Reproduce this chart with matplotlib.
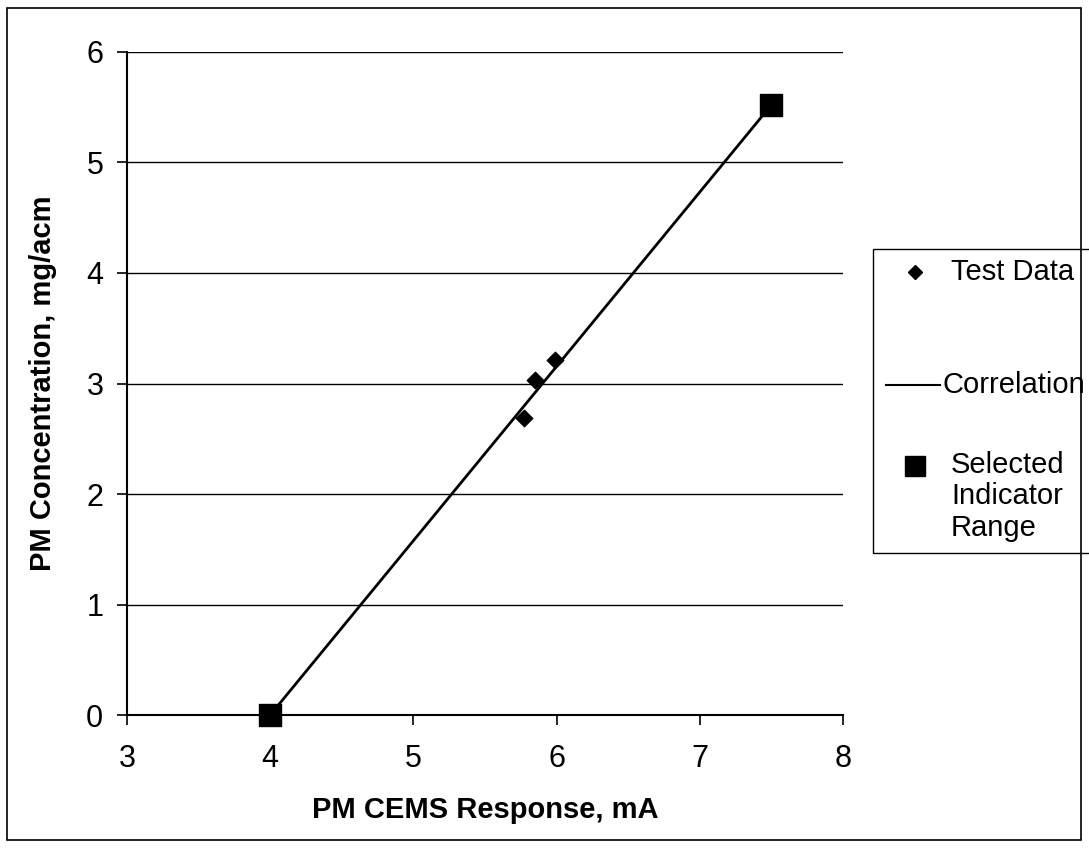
import matplotlib
matplotlib.use("Agg")
import matplotlib.pyplot as plt
from matplotlib.patches import Rectangle
from matplotlib.lines import Line2D

plt.rcParams['font.family'] = ['Liberation Sans', 'DejaVu Sans']

# test data (mA, mg/acm)
test_x = [5.77, 5.85, 5.99]
test_y = [2.69, 3.03, 3.21]

# correlation line end points / selected indicator range
range_x = [4.0, 7.5]
range_y = [0.0, 5.52]

xticks = [3, 4, 5, 6, 7, 8]
yticks = [0, 1, 2, 3, 4, 5, 6]

W, H = 1089, 848
fig = plt.figure(figsize=(W / 100, H / 100), dpi=100)
ax = fig.add_axes([0.1166, 0.1568, 0.6574, 0.7819])

ax.plot(range_x, range_y, color='black', lw=2, zorder=3)
ax.scatter(test_x, test_y, marker='D', s=70, color='black', zorder=4)
ax.scatter(range_x, range_y, marker='s', s=260, color='black', zorder=5, clip_on=False)

ax.set_xlim(3, 8)
ax.set_ylim(0, 6)
ax.set_xticks(xticks)
ax.set_yticks(yticks)
ax.yaxis.grid(True, color='black', lw=1)
ax.set_axisbelow(True)
for s in ['top', 'right']:
    ax.spines[s].set_visible(False)
ax.spines['left'].set_linewidth(1.5)
ax.spines['bottom'].set_linewidth(1.5)
ax.tick_params(direction='out', length=7, width=1.2, labelsize=22)
ax.tick_params(axis='x', pad=14)
ax.tick_params(axis='y', pad=10)

ax.set_xlabel('PM CEMS Response, mA', fontsize=21, fontweight='bold', labelpad=16)
ax.set_ylabel('PM Concentration, mg/acm', fontsize=21, fontweight='bold', labelpad=21)

# legend, drawn by hand (pixel positions -> figure fraction)
def fx(px):
    return px / W

def fy(py):
    return 1 - py / H

fig.patches.append(Rectangle((fx(873), fy(553)), fx(1095) - fx(873), fy(249) - fy(553),
                             transform=fig.transFigure, fill=False, edgecolor='black', lw=1))
fig.add_artist(Line2D([fx(915)], [fy(272)], marker='D', ms=7, color='black', ls='none'))
fig.text(fx(951), fy(272), 'Test Data', fontsize=21, va='center')
fig.add_artist(Line2D([fx(886), fx(940)], [fy(385), fy(385)], color='black', lw=1.5))
fig.text(fx(943), fy(385), 'Correlation', fontsize=21, va='center')
fig.add_artist(Line2D([fx(915)], [fy(466)], marker='s', ms=15, color='black', ls='none'))
fig.text(fx(951), fy(451), 'Selected\nIndicator\nRange', fontsize=21, va='top',
         linespacing=1.15)

fig.patches.append(Rectangle((0.0065, 0.009), 0.986, 0.981, transform=fig.transFigure,
                             fill=False, edgecolor='black', lw=1.2))

fig.savefig('out.png', dpi=100)
